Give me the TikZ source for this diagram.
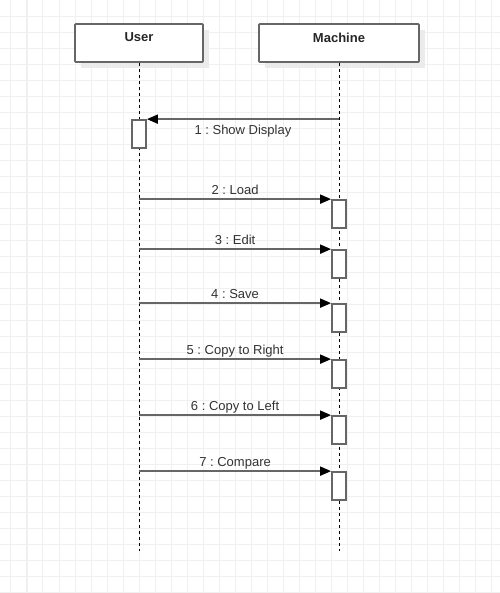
\documentclass[tikz,border=0pt]{standalone}
\usepackage{fontspec}
\setmainfont{Liberation Sans}
\usepackage{xcolor}
\usetikzlibrary{arrows.meta,positioning,calc}

\definecolor{gridgray}{HTML}{F0F0F0}
\definecolor{linegray}{HTML}{666666}
\definecolor{textgray}{HTML}{333333}

\tikzset{
  gridline/.style={gridgray, line width=0.02cm},
  headbox/.style={draw=linegray, fill=white, line width=0.035cm, rounded corners=0.5pt, minimum height=38*0.02cm, inner sep=0pt},
  headshadow/.style={fill=black!8, draw=none, minimum height=38*0.02cm, inner sep=0pt},
  headtext/.style={font=\fontsize{7.4}{8}\selectfont\bfseries, text=black!85, inner sep=0pt},
  lifeline/.style={black, line width=0.02cm, dash pattern=on 0.06cm off 0.06cm},
  activ/.style={draw=linegray, fill=white, line width=0.035cm, minimum width=14*0.02cm, minimum height=28*0.02cm, inner sep=0pt},
  msg/.style={draw=linegray, line width=0.035cm, -{Triangle[length=0.22cm, width=0.18cm, black]}},
  msgtext/.style={font=\fontsize{7.4}{8}\selectfont\frenchspacing, text=textgray, inner sep=0pt, anchor=base},
}

\begin{document}
\begin{tikzpicture}[x=0.02cm, y=-0.02cm]
    \useasboundingbox[fill=white] (0,0) rectangle (500,593);
    % background grid
    \foreach \gx in {11,27,...,491} \draw[gridline] (\gx,0) -- (\gx,593);
    \foreach \gy in {16,32,...,592} \draw[gridline] (0,\gy) -- (500,\gy);

    % lifeline heads
    \node[headshadow, minimum width=128*0.02cm] (usershadow) at (145,49) {};
    \node[headshadow, minimum width=160*0.02cm] (machineshadow) at (345,49) {};
    \node[headbox, minimum width=128*0.02cm] (user) at (139,43) {};
    \node[headbox, minimum width=160*0.02cm] (machine) at (339,43) {};
    \node[headtext] (usertitle) at (139,37.5) {User};
    \node[headtext] (machinetitle) at (339,37.5) {Machine};

    % lifelines
    \coordinate (userend) at (139,551);
    \coordinate (machineend) at (339,551);
    \draw[lifeline] (user.south) -- (userend);
    \draw[lifeline] (machine.south) -- (machineend);

    % activations
    \node[activ] (act1) at (139,134) {};
    \node[activ] (act2) at (339,214) {};
    \node[activ] (act3) at (339,264) {};
    \node[activ] (act4) at (339,318) {};
    \node[activ] (act5) at (339,374) {};
    \node[activ] (act6) at (339,430) {};
    \node[activ] (act7) at (339,486) {};

    % messages
    \draw[msg] (machine |- act1.north) -- (act1.north east) node[msgtext, midway, yshift=-0.3cm] (m1) {1 : Show Display};
    \draw[msg] (user |- act2.north) -- (act2.north west) node[msgtext, midway, yshift=0.1cm] (m2) {2 : Load};
    \draw[msg] (user |- act3.north) -- (act3.north west) node[msgtext, midway, yshift=0.1cm] (m3) {3 : Edit};
    \draw[msg] (user |- act4.north) -- (act4.north west) node[msgtext, midway, yshift=0.1cm] (m4) {4 : Save};
    \draw[msg] (user |- act5.north) -- (act5.north west) node[msgtext, midway, yshift=0.1cm] (m5) {5 : Copy to Right};
    \draw[msg] (user |- act6.north) -- (act6.north west) node[msgtext, midway, yshift=0.1cm] (m6) {6 : Copy to Left};
    \draw[msg] (user |- act7.north) -- (act7.north west) node[msgtext, midway, yshift=0.1cm] (m7) {7 : Compare};
\end{tikzpicture}
\end{document}
